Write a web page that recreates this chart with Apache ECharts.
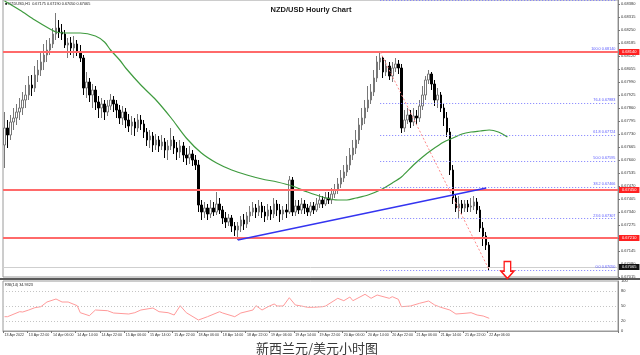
<!DOCTYPE html>
<html>
<head>
<meta charset="utf-8">
<script src="https://cdn.jsdelivr.net/npm/echarts@6/dist/echarts.min.js"></script>
<style>
html, body { margin: 0; padding: 0; background: #fff; }
#main { width: 640px; height: 355px; }
</style>
</head>
<body>
<div id="main"></div>
<script>
// NZD/USD H1 bars, 13 Apr 14:00 -> 22 Apr 06:00 (161 bars)
const opens = [0.67675,0.67760,0.67725,0.67790,0.67810,0.67840,0.67860,0.67900,0.67925,0.67975,
  0.67960,0.68025,0.68050,0.68090,0.68125,0.68150,0.68180,0.68230,0.68260,0.68240,
  0.68230,0.68175,0.68185,0.68160,0.68180,0.68140,0.68110,0.67960,0.67990,0.67925,
  0.67950,0.67890,0.67860,0.67880,0.67840,0.67870,0.67900,0.67880,0.67850,0.67810,
  0.67840,0.67800,0.67770,0.67790,0.67760,0.67800,0.67780,0.67740,0.67700,0.67720,
  0.67675,0.67700,0.67670,0.67690,0.67650,0.67670,0.67700,0.67660,0.67640,0.67670,
  0.67625,0.67610,0.67630,0.67600,0.67575,0.67375,0.67340,0.67360,0.67330,0.67360,
  0.67340,0.67380,0.67350,0.67310,0.67290,0.67310,0.67270,0.67250,0.67270,0.67300,
  0.67280,0.67320,0.67340,0.67360,0.67340,0.67370,0.67340,0.67320,0.67350,0.67330,
  0.67380,0.67350,0.67330,0.67350,0.67340,0.67500,0.67340,0.67370,0.67350,0.67380,
  0.67360,0.67340,0.67370,0.67350,0.67380,0.67400,0.67380,0.67410,0.67400,0.67430,
  0.67450,0.67480,0.67510,0.67540,0.67575,0.67625,0.67660,0.67700,0.67775,0.67810,
  0.67860,0.67900,0.67940,0.68010,0.68090,0.68110,0.68040,0.68070,0.68020,0.68060,
  0.68080,0.68060,0.67760,0.67800,0.67825,0.67790,0.67820,0.67810,0.67870,0.67925,
  0.68000,0.68030,0.67980,0.67900,0.67925,0.67860,0.67810,0.67740,0.67550,0.67410,
  0.67360,0.67380,0.67360,0.67380,0.67365,0.67370,0.67390,0.67350,0.67260,0.67220,
  0.67175];
const closes = [0.67760,0.67725,0.67790,0.67810,0.67840,0.67860,0.67900,0.67925,0.67975,0.67960,
  0.68025,0.68050,0.68090,0.68125,0.68150,0.68180,0.68230,0.68260,0.68240,0.68230,
  0.68175,0.68185,0.68160,0.68180,0.68140,0.68110,0.67960,0.67990,0.67925,0.67950,
  0.67890,0.67860,0.67880,0.67840,0.67870,0.67900,0.67880,0.67850,0.67810,0.67840,
  0.67800,0.67770,0.67790,0.67760,0.67800,0.67780,0.67740,0.67700,0.67720,0.67675,
  0.67700,0.67670,0.67690,0.67650,0.67670,0.67700,0.67660,0.67640,0.67670,0.67625,
  0.67610,0.67630,0.67600,0.67575,0.67375,0.67340,0.67360,0.67330,0.67360,0.67340,
  0.67380,0.67350,0.67310,0.67290,0.67310,0.67270,0.67250,0.67270,0.67300,0.67280,
  0.67320,0.67340,0.67360,0.67340,0.67370,0.67340,0.67320,0.67350,0.67330,0.67380,
  0.67350,0.67330,0.67350,0.67340,0.67500,0.67340,0.67370,0.67350,0.67380,0.67360,
  0.67340,0.67370,0.67350,0.67380,0.67400,0.67380,0.67410,0.67400,0.67430,0.67450,
  0.67480,0.67510,0.67540,0.67575,0.67625,0.67660,0.67700,0.67775,0.67810,0.67860,
  0.67900,0.67940,0.68010,0.68090,0.68110,0.68040,0.68070,0.68020,0.68060,0.68080,
  0.68060,0.67760,0.67800,0.67825,0.67790,0.67820,0.67810,0.67870,0.67925,0.68000,
  0.68030,0.67980,0.67900,0.67925,0.67860,0.67810,0.67740,0.67550,0.67410,0.67360,
  0.67380,0.67360,0.67380,0.67365,0.67370,0.67390,0.67350,0.67260,0.67220,0.67175,
  0.67065];
const lows = [0.67560,0.67660,0.67700,0.67750,0.67775,0.67800,0.67825,0.67860,0.67900,0.67920,
  0.67940,0.67990,0.68020,0.68050,0.68090,0.68125,0.68160,0.68200,0.68210,0.68200,
  0.68160,0.68110,0.68125,0.68110,0.68120,0.68090,0.67925,0.67910,0.67890,0.67860,
  0.67850,0.67810,0.67810,0.67800,0.67820,0.67850,0.67840,0.67810,0.67780,0.67775,
  0.67760,0.67740,0.67725,0.67720,0.67740,0.67750,0.67710,0.67670,0.67660,0.67640,
  0.67650,0.67640,0.67650,0.67610,0.67600,0.67650,0.67630,0.67600,0.67610,0.67590,
  0.67575,0.67580,0.67570,0.67550,0.67340,0.67300,0.67310,0.67300,0.67310,0.67320,
  0.67325,0.67330,0.67280,0.67260,0.67270,0.67240,0.67220,0.67200,0.67240,0.67250,
  0.67260,0.67290,0.67320,0.67310,0.67320,0.67310,0.67290,0.67300,0.67300,0.67310,
  0.67320,0.67290,0.67300,0.67310,0.67330,0.67320,0.67320,0.67330,0.67330,0.67330,
  0.67320,0.67320,0.67330,0.67340,0.67360,0.67360,0.67370,0.67380,0.67380,0.67410,
  0.67430,0.67460,0.67490,0.67520,0.67550,0.67600,0.67630,0.67680,0.67750,0.67780,
  0.67840,0.67880,0.67920,0.67990,0.68050,0.68010,0.68020,0.68000,0.67990,0.68040,
  0.68030,0.67735,0.67740,0.67780,0.67760,0.67770,0.67775,0.67790,0.67850,0.67900,
  0.67980,0.67950,0.67870,0.67860,0.67840,0.67770,0.67715,0.67525,0.67380,0.67340,
  0.67310,0.67330,0.67340,0.67340,0.67340,0.67350,0.67330,0.67240,0.67170,0.67150,
  0.67050];
const highs = [0.67840,0.67800,0.67825,0.67860,0.67880,0.67910,0.67940,0.67975,0.68020,0.68025,
  0.68070,0.68100,0.68140,0.68180,0.68200,0.68210,0.68260,0.68335,0.68300,0.68280,
  0.68250,0.68210,0.68215,0.68220,0.68200,0.68175,0.68125,0.68040,0.68010,0.67980,
  0.67970,0.67920,0.67910,0.67900,0.67900,0.67930,0.67920,0.67900,0.67875,0.67870,
  0.67860,0.67830,0.67820,0.67810,0.67830,0.67825,0.67800,0.67760,0.67750,0.67740,
  0.67730,0.67720,0.67725,0.67710,0.67700,0.67760,0.67720,0.67690,0.67700,0.67690,
  0.67660,0.67670,0.67650,0.67625,0.67600,0.67400,0.67390,0.67380,0.67400,0.67390,
  0.67440,0.67410,0.67370,0.67340,0.67330,0.67325,0.67290,0.67290,0.67320,0.67330,
  0.67340,0.67370,0.67390,0.67380,0.67400,0.67390,0.67370,0.67380,0.67370,0.67410,
  0.67400,0.67380,0.67370,0.67380,0.67520,0.67515,0.67400,0.67400,0.67410,0.67400,
  0.67380,0.67390,0.67390,0.67410,0.67430,0.67420,0.67440,0.67440,0.67460,0.67480,
  0.67510,0.67550,0.67575,0.67620,0.67660,0.67700,0.67750,0.67810,0.67860,0.67900,
  0.67970,0.67980,0.68050,0.68120,0.68140,0.68120,0.68100,0.68090,0.68090,0.68110,
  0.68100,0.68080,0.67850,0.67860,0.67850,0.67860,0.67850,0.67900,0.67970,0.68020,
  0.68050,0.68040,0.68000,0.67960,0.67940,0.67880,0.67840,0.67760,0.67575,0.67430,
  0.67420,0.67400,0.67400,0.67400,0.67410,0.67420,0.67410,0.67370,0.67290,0.67240,
  0.67190];

// shifted moving average (green), read at sample bars
const maBars = [0,5,10,15,17,20,25,30,33,35,38,40,45,50,55,60,65,70,75,80,85,90,95,100,105,110,113,116,120,124,128,131,135,138,141,145,148,151,154,157,160,163,166];
const maValues = [0.68395,0.6835,0.6830,0.68255,0.6824,0.68235,0.68235,0.6822,0.6819,0.6815,
  0.6810,0.6806,0.67975,0.6790,0.6781,0.6771,0.67635,0.67585,0.6755,0.67525,
  0.67505,0.6749,0.6747,0.6744,0.67415,0.6740,0.6740,0.6741,0.67425,0.6745,
  0.67485,0.67515,0.67575,0.67615,0.6765,0.6769,0.6771,0.6773,0.6774,0.67745,
  0.6775,0.6774,0.67715];

// RSI(14)
const rsiBars = [0,1,5,6,8,10,12,14,17,19,21,24,25,28,30,34,36,41,43,45,49,51,54,56,58,60,64,67,71,72,76,78,82,83,85,87,89,90,92,94,96,98,100,102,105,106,110,112,114,115,119,121,123,127,128,130,131,134,137,140,142,144,147,149,152,154,156,158,160];
const rsiValues = [28.6,28.6,38.6,38,42,46.6,48.6,58,64,58,
  58,50.6,36.6,30.6,42,40.6,36,34,36.6,42,
  46,38.6,36.6,32,50.6,36.6,22,28.6,38.6,36,
  28.6,36,42,50.6,42,48.6,54,50,50,66.6,
  52,50,47.4,47.4,48.6,50,65.4,60.6,68,60.6,
  73.4,65.4,72,65.4,68.6,63.4,48.6,50,55.4,60,
  52,47.4,42,34,35.4,36.6,32,30,25.4];
const rsiLevels = [20, 50, 80];

const tickLabels = ["13 Apr 2022","13 Apr 22:00","14 Apr 06:00","14 Apr 14:00","14 Apr 22:00",
  "15 Apr 06:00","15 Apr 14:00","15 Apr 22:00","18 Apr 06:00","18 Apr 14:00","18 Apr 22:00",
  "19 Apr 06:00","19 Apr 14:00","19 Apr 22:00","20 Apr 06:00","20 Apr 14:00","20 Apr 22:00",
  "21 Apr 06:00","21 Apr 14:00","21 Apr 22:00","22 Apr 06:00"];

// drawing objects
const redLevels = [0.6814, 0.6745, 0.6721];
const lastPrice = 0.67065;
const fibRatios = ["123.6","100.0","76.4","61.8","50.0","38.2","23.6","0.0"];
const fibPrices = [0.68397,0.68140,0.67883,0.67724,0.67595,0.67466,0.67307,0.67050];
const fibFrom = 124;
const fibDiag = [[124, 0.6814], [160, 0.6705]];
const trendLine = [[77, 0.6720], [159, 0.6746]];
const arrowAt = [166, 0.6705];

const slots = 203; // bars + empty space on the right
const cats = [];
for (let i = 0; i < slots; i++) cats.push(String(i));

const candles = opens.map((o, i) => [o, closes[i], lows[i], highs[i]]);

const lineMarks = [];
// fib levels
fibPrices.forEach((p, i) => {
  lineMarks.push([
    { coord: [fibFrom, p], name: fibRatios[i] + " " + p.toFixed(5),
      lineStyle: { color: "#7b7bff", type: [1, 2], width: 1 },
      label: { show: true, position: "insideEndTop", formatter: "{b}", color: "#5a5aff", fontSize: 3.8, distance: 1 } },
    { coord: [slots - 1, p] }
  ]);
});
// red horizontal levels
redLevels.forEach((p) => {
  lineMarks.push({
    yAxis: p,
    lineStyle: { color: "#ff6a6a", type: "solid", width: 2 },
    label: { show: true, position: "end", formatter: p.toFixed(5), color: "#fff", backgroundColor: "#ff2020",
      fontSize: 4, padding: [1, 3], distance: 1 }
  });
});
// bid line
lineMarks.push({
  yAxis: lastPrice,
  lineStyle: { color: "#cfcfcf", type: "solid", width: 1 },
  label: { show: true, position: "end", formatter: lastPrice.toFixed(5), color: "#fff", backgroundColor: "#111",
    fontSize: 4, padding: [1, 3], distance: 1 }
});
// fib diagonal
lineMarks.push([
  { coord: fibDiag[0], lineStyle: { color: "#ff8c8c", type: [2, 2], width: 1 }, label: { show: false } },
  { coord: fibDiag[1] }
]);
// support trend line
lineMarks.push([
  { coord: trendLine[0], lineStyle: { color: "#3434f0", type: "solid", width: 1.5 }, label: { show: false } },
  { coord: trendLine[1] }
]);

const chart = echarts.init(document.getElementById("main"));
chart.setOption({
  animation: false,
  backgroundColor: "#fff",
  title: {
    text: "NZD/USD Hourly Chart",
    left: 306, top: 1, textAlign: "center",
    textStyle: { fontSize: 7.5, fontWeight: "bold", color: "#1a1a1a", fontFamily: "Liberation Sans" }
  },
  grid: [
    { left: 3, top: 0, width: 615, height: 277, show: true, borderColor: "#9a9a9a", borderWidth: 1 },
    { left: 3, top: 281, width: 615, height: 50, show: true, borderColor: "#9a9a9a", borderWidth: 1 }
  ],
  xAxis: [
    { type: "category", gridIndex: 0, data: cats, boundaryGap: true,
      axisLine: { show: false }, axisTick: { show: false }, axisLabel: { show: false }, splitLine: { show: false } },
    { type: "category", gridIndex: 1, data: cats, boundaryGap: true,
      axisLine: { show: true, lineStyle: { color: "#9a9a9a" } },
      axisTick: { show: true, length: 2, lineStyle: { color: "#777" },
        interval: (i) => i % 8 === 0 && i / 8 < tickLabels.length },
      axisLabel: { show: true, fontSize: 3.6, color: "#333", margin: 2, align: "left",
        fontFamily: "Liberation Sans",
        interval: (i) => i % 8 === 0 && i / 8 < tickLabels.length,
        formatter: (v, i) => tickLabels[i / 8] || "" },
      splitLine: { show: false } }
  ],
  yAxis: [
    { type: "value", gridIndex: 0, position: "right", min: 0.67015, max: 0.6840, interval: 0.00065,
      axisLine: { show: true, lineStyle: { color: "#8a8a8a" } },
      axisTick: { show: true, length: 2, lineStyle: { color: "#777" } },
      axisLabel: { fontSize: 4, color: "#333", margin: 3, fontFamily: "Liberation Sans",
        showMaxLabel: false, formatter: (v) => v.toFixed(5) },
      splitLine: { show: false } },
    { type: "value", gridIndex: 1, position: "right", min: 0, max: 100, interval: 10,
      axisLine: { show: true, lineStyle: { color: "#8a8a8a" } },
      axisTick: { show: false },
      axisLabel: { fontSize: 4, color: "#333", margin: 3, fontFamily: "Liberation Sans",
        formatter: (v) => ([0, 20, 50, 80, 100].indexOf(v) >= 0 ? String(v) : "") },
      splitLine: { show: false } }
  ],
  graphic: [
    { type: "rect", left: 0, top: 278, shape: { width: 640, height: 2 }, style: { fill: "#5a5a5a" }, silent: true },
    { type: "text", left: 5, top: 2,
      style: { text: "\u25A0 NZDUSD,H1  0.67175 0.67190 0.67050 0.67065", fontSize: 3.8, fill: "#222", fontFamily: "Liberation Sans" } },
    { type: "text", left: 5, top: 283,
      style: { text: "RSI(14) 34.9323", fontSize: 3.8, fill: "#222", fontFamily: "Liberation Sans" } },
    { type: "text", x: 317, y: 348,
      style: { text: "新西兰元/美元小时图", fontSize: 13, fill: "#3a3a3a", align: "center", verticalAlign: "middle",
        fontFamily: "Noto Sans CJK SC" } }
  ],
  series: [
    {
      name: "NZDUSD", type: "candlestick", xAxisIndex: 0, yAxisIndex: 0,
      data: candles, barWidth: 2,
      itemStyle: { color: "#ffffff", color0: "#000000", borderColor: "#777777", borderColor0: "#000000", borderWidth: 1 },
      markLine: { silent: true, symbol: "none", animation: false, precision: 5, data: lineMarks },
      markPoint: {
        silent: true, animation: false,
        symbol: "path://M3,0 L9,0 L9,9 L12,9 L6,16 L0,9 L3,9 Z",
        symbolSize: [13, 17], symbolKeepAspect: false,
        itemStyle: { color: "#ffffff", borderColor: "#ff1a1a", borderWidth: 1.5 },
        label: { show: false },
        data: [{ coord: arrowAt }]
      }
    },
    {
      name: "MA", type: "line", xAxisIndex: 0, yAxisIndex: 0,
      data: maBars.map((b, i) => [b, maValues[i]]),
      smooth: 0.3, showSymbol: false, silent: true,
      lineStyle: { color: "#3f9b3f", width: 1.2 }
    },
    {
      name: "RSI", type: "line", xAxisIndex: 1, yAxisIndex: 1,
      data: rsiBars.map((b, i) => [b, rsiValues[i]]),
      showSymbol: false, silent: true,
      lineStyle: { color: "#ff9a9a", width: 1 },
      markLine: { silent: true, symbol: "none", animation: false, label: { show: false },
        lineStyle: { color: "#c4c4c4", type: [1, 2], width: 1 },
        data: rsiLevels.map((v) => ({ yAxis: v })) }
    }
  ]
});
</script>
</body>
</html>
